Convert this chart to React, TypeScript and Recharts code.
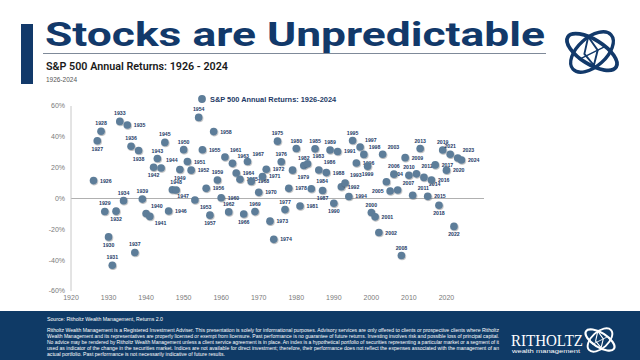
import React from 'react';
import { ScatterChart, Scatter, XAxis, YAxis, ReferenceLine, Legend } from 'recharts';

const years = [
  1926, 1927, 1928, 1929, 1930, 1931, 1932, 1933, 1934, 1935,
  1936, 1937, 1938, 1939, 1940, 1941, 1942, 1943, 1944, 1945,
  1946, 1947, 1948, 1949, 1950, 1951, 1952, 1953, 1954, 1955,
  1956, 1957, 1958, 1959, 1960, 1961, 1962, 1963, 1964, 1965,
  1966, 1967, 1968, 1969, 1970, 1971, 1972, 1973, 1974, 1975,
  1976, 1977, 1978, 1979, 1980, 1981, 1982, 1983, 1984, 1985,
  1986, 1987, 1988, 1989, 1990, 1991, 1992, 1993, 1994, 1995,
  1996, 1997, 1998, 1999, 2000, 2001, 2002, 2003, 2004, 2005,
  2006, 2007, 2008, 2009, 2010, 2011, 2012, 2013, 2014, 2015,
  2016, 2017, 2018, 2019, 2020, 2021, 2022, 2023, 2024,
];

const annualReturns = [
  11.6, 37.5, 43.6, -8.4, -24.9, -43.3, -8.2, 50.0, -1.4, 47.7,
  33.9, -35.0, 31.1, -0.4, -9.8, -11.6, 20.3, 25.9, 19.8, 36.4,
  -8.1, 5.7, 5.5, 18.8, 31.7, 24.0, 18.4, -1.0, 52.6, 31.6,
  6.6, -10.8, 43.4, 12.0, 0.5, 26.9, -8.7, 22.8, 16.5, 12.5,
  -10.1, 24.0, 11.1, -8.5, 4.0, 14.3, 19.0, -14.7, -26.5, 37.2,
  23.8, -7.2, 6.6, 18.4, 32.4, -4.9, 21.4, 22.5, 6.3, 32.2,
  18.5, 5.2, 16.8, 31.5, -3.1, 30.5, 7.6, 10.1, 1.3, 37.6,
  23.0, 33.4, 28.6, 21.0, -9.1, -11.9, -22.1, 28.7, 10.9, 4.9,
  15.8, 5.5, -37.0, 26.5, 15.1, 2.1, 16.0, 32.4, 13.7, 1.4,
  12.0, 21.8, -4.4, 31.5, 18.4, 28.7, -18.1, 26.3, 25.0,
];

const xTicks = [1920, 1930, 1940, 1950, 1960, 1970, 1980, 1990, 2000, 2010, 2020];
const yTicks = [-60, -40, -20, 0, 20, 40, 60];

const seriesName = 'S&P 500 Annual Returns: 1926-2024';

// label placement per year (style, not data)
const labelPlacement: Record<number, string> = {
  1926: 'r', 1927: 'b', 1928: 't', 1929: 't', 1930: 'b', 1931: 't', 1932: 'b', 1933: 't', 1934: 't', 1935: 'r',
  1936: 't', 1937: 't', 1938: 'b', 1939: 't', 1940: 'tr', 1941: 'br', 1942: 'b', 1943: 't', 1944: 'tr', 1945: 't',
  1946: 'r', 1947: 'br', 1948: 't', 1949: 'b', 1950: 't', 1951: 'r', 1952: 'r', 1953: 'br', 1954: 't', 1955: 'r',
  1956: 'r', 1957: 'b', 1958: 'r', 1959: 't', 1960: 'r', 1961: 'tr', 1962: 't', 1963: 'tr', 1964: 'r', 1965: 'r',
  1966: 'b', 1967: 'tr', 1968: 'r', 1969: 't', 1970: 'r', 1971: 'r', 1972: 'r', 1973: 'r', 1974: 'r', 1975: 't',
  1976: 't', 1977: 't', 1978: 'r', 1979: 'br', 1980: 't', 1981: 'r', 1982: 't', 1983: 'tr', 1984: 'tr', 1985: 't',
  1986: 'tr', 1987: 'b', 1988: 'r', 1989: 't', 1990: 'b', 1991: 'r', 1992: 'r', 1993: 'tr', 1994: 'r', 1995: 't',
  1996: 'r', 1997: 'tr', 1998: 'tr', 1999: 'b', 2000: 't', 2001: 'r', 2002: 'r', 2003: 'tr', 2004: 'tr', 2005: 'l',
  2006: 't', 2007: 'tr', 2008: 't', 2009: 'r', 2010: 't', 2011: 'tr', 2012: 'tr', 2013: 't', 2014: 'br', 2015: 'r',
  2016: 'r', 2017: 'r', 2018: 'b', 2019: 't', 2020: 'r', 2021: 't', 2022: 'b', 2023: 'tr', 2024: 'r',
};

const chartData = years.map((year, i) => ({ year, ret: annualReturns[i] }));

const NAVY = '#12396a';
const DOT = '#5d7d99';
const LABEL = '#1d3a66';

const PointShape = (props: any) => {
  const { cx, cy, payload } = props;
  if (cx == null || cy == null) return null;
  const pos = labelPlacement[payload.year] || 'r';
  let tx = cx + 6.5;
  let ty = cy + 2;
  let anchor: 'start' | 'middle' | 'end' = 'start';
  if (pos === 'l') { tx = cx - 6.5; anchor = 'end'; }
  else if (pos === 't') { tx = cx; ty = cy - 6; anchor = 'middle'; }
  else if (pos === 'b') { tx = cx; ty = cy + 10; anchor = 'middle'; }
  else if (pos === 'tr') { tx = cx + 5; ty = cy - 5.5; }
  else if (pos === 'br') { tx = cx + 5; ty = cy + 8.5; }
  return (
    <g>
      <circle cx={cx} cy={cy} r={3.8} fill={DOT} filter="url(#dotShadow)" />
      <text x={tx} y={ty} textAnchor={anchor} fontSize={5.2} fontWeight={700}
        fontFamily="'Liberation Sans', Arial, sans-serif" fill={LABEL}>
        {payload.year}
      </text>
    </g>
  );
};

const LegendContent = () => (
  <svg width={200} height={12} style={{ overflow: 'visible' }}>
    <circle cx={6} cy={6} r={3.9} fill={DOT} />
    <text x={14} y={8.6} fontSize={7.4} fontWeight={700} fontFamily="'Liberation Sans', Arial, sans-serif" fill={LABEL}>
      {seriesName}
    </text>
  </svg>
);

const footerLines = [
  'Ritholtz Wealth Management is a Registered Investment Adviser. This presentation is solely for informational purposes. Advisory services are only offered to clients or prospective clients where Ritholtz',
  'Wealth Management and its representatives are properly licensed or exempt from licensure. Past performance is no guarantee of future returns. Investing involves risk and possible loss of principal capital.',
  'No advice may be rendered by Ritholtz Wealth Management unless a client service agreement is in place. An index is a hypothetical portfolio of securities representing a particular market or a segment of it',
  'used as indicator of the change in the securities market. Indices are not available for direct investment; therefore, their performance does not reflect the expenses associated with the management of an',
  'actual portfolio. Past performance is not necessarily indicative of future results.',
];

const Emblem = ({ cx, cy, s, color }: { cx: number; cy: number; s: number; color: string }) => (
  <g transform={`translate(${cx},${cy}) scale(${s})`} fill="none" stroke={color}>
    <ellipse cx={0} cy={0} rx={30} ry={13} transform="rotate(32)" strokeWidth={4} />
    <ellipse cx={0} cy={0} rx={27} ry={15} transform="rotate(-42)" strokeWidth={3.5} />
    <path d="M-4,-16 L6,-2 L2,14 L-8,2 Z" strokeWidth={2} />
    <path d="M-14,8 L14,-6" strokeWidth={1.5} />
  </g>
);

export default function App() {
  return (
    <div style={{ position: 'absolute', left: 0, top: 0, width: 640, height: 360, background: '#fff', overflow: 'hidden' }}>
      <svg width={0} height={0} style={{ position: 'absolute' }}>
        <defs>
          <filter id="dotShadow" x="-50%" y="-50%" width="200%" height="200%">
            <feDropShadow dx={0.6} dy={0.8} stdDeviation={0.6} floodColor="#000" floodOpacity={0.35} />
          </filter>
        </defs>
      </svg>

      {/* header */}
      <svg width={640} height={92} style={{ position: 'absolute', left: 0, top: 0 }}>
        <rect x={21} y={24} width={12} height={60} fill={NAVY} />
        <text x={45} y={46} fontSize={34} fontWeight={700} fontFamily="Roboto, 'Liberation Sans', Arial, sans-serif"
          fill={NAVY} textLength={500} lengthAdjust="spacingAndGlyphs">
          Stocks are Unpredictable
        </text>
        <line x1={43} x2={546} y1={53.5} y2={53.5} stroke="#7f8a99" strokeWidth={1} />
        <text x={46} y={70} fontSize={10.5} fontWeight={600} fontFamily="Roboto, 'Liberation Sans', Arial, sans-serif"
          fill="#1a1a1a" textLength={182} lengthAdjust="spacingAndGlyphs">
          S&amp;P 500 Annual Returns: 1926 - 2024
        </text>
        <text x={46} y={82} fontSize={6.5} fontFamily="'Liberation Sans', Arial, sans-serif" fill="#555">
          1926-2024
        </text>
        <Emblem cx={592} cy={52} s={0.95} color={NAVY} />
      </svg>

      {/* chart */}
      <div style={{ position: 'absolute', left: 0, top: 0 }}>
        <ScatterChart width={500} height={320} margin={{ top: 106, right: 16, left: 31, bottom: 9 }}>
          <XAxis type="number" dataKey="year" domain={[1920, 2030]} ticks={xTicks} allowDataOverflow
            axisLine={false} tickLine={false} tickSize={0} tickMargin={4} height={20}
            tick={{ fill: '#7a7a7a', fontSize: 7, fontFamily: "'Liberation Sans', Arial, sans-serif" }} />
          <YAxis type="number" dataKey="ret" domain={[-60, 60]} ticks={yTicks} allowDataOverflow
            tickFormatter={(v: number) => `${v}%`} width={40}
            axisLine={{ stroke: '#c8c8c8', strokeWidth: 1 }} tickLine={false} tickSize={0} tickMargin={6}
            tick={{ fill: '#7a7a7a', fontSize: 7, fontFamily: "'Liberation Sans', Arial, sans-serif" }} />
          <ReferenceLine y={0} stroke="#b0b0b0" strokeWidth={1.2} />
          <Legend layout="horizontal" verticalAlign="middle" align="center"
            wrapperStyle={{ top: 91, left: 196, width: 200, height: 12 }} content={<LegendContent />} />
          <Scatter name={seriesName} data={chartData} fill={DOT} shape={<PointShape />} isAnimationActive={false} />
        </ScatterChart>
      </div>

      {/* footer */}
      <svg width={640} height={50} style={{ position: 'absolute', left: 0, top: 311 }}>
        <rect x={0} y={0} width={640} height={49} fill="#0f3a66" />
        <text x={47} y={10} fontSize={5.2} fill="#fff" fontFamily="'Liberation Sans', Arial, sans-serif"
          textLength={116} lengthAdjust="spacingAndGlyphs">
          Source: Ritholtz Wealth Management, Returns 2.0
        </text>
        {footerLines.map((line, i) => (
          <text key={i} x={47} y={21 + i * 6} fontSize={5} fill="#fff" fontFamily="'Liberation Sans', Arial, sans-serif"
            textLength={i < 4 ? 452 : 178} lengthAdjust="spacingAndGlyphs">
            {line}
          </text>
        ))}
        <text x={511} y={35} fontSize={16} fill="#fff" fontFamily="'Liberation Serif', 'Times New Roman', serif"
          textLength={72} lengthAdjust="spacingAndGlyphs">
          RITHOLTZ
        </text>
        <text x={512} y={42} fontSize={6} fill="#fff" fontFamily="'Liberation Sans', Arial, sans-serif"
          textLength={68} lengthAdjust="spacingAndGlyphs">
          wealth management
        </text>
        <Emblem cx={600} cy={29} s={0.55} color="#fff" />
      </svg>
    </div>
  );
}
